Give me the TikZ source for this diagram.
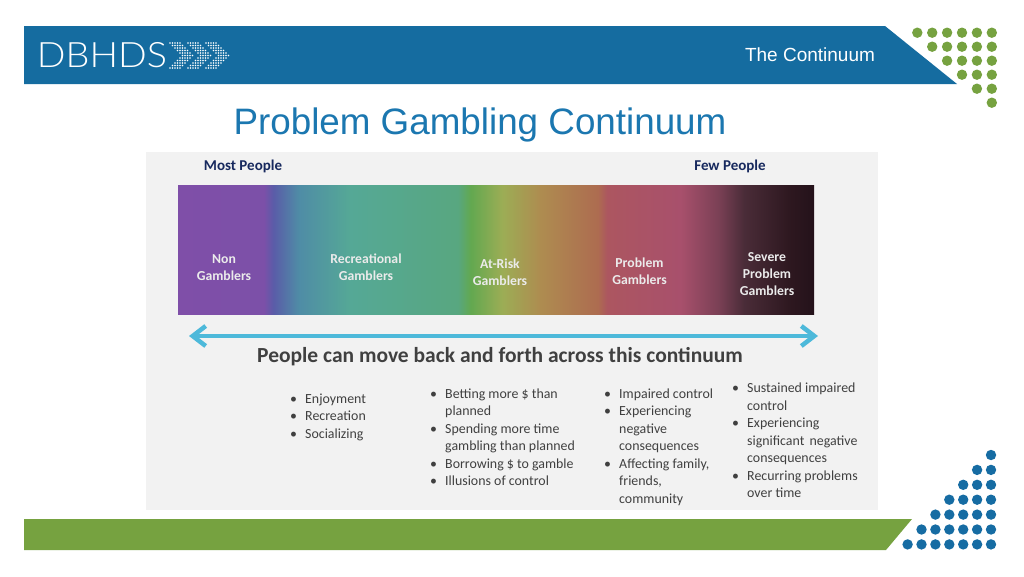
\documentclass[tikz,border=0pt]{standalone}
\usepackage{fontspec}
\usepackage{tikz}
\usetikzlibrary{arrows.meta}
\setmainfont{Carlito}
\newfontfamily\headfont{Liberation Sans}
\newfontfamily\logofont{Lato Light}
\definecolor{bandblue}{HTML}{156CA0}
\definecolor{dotblue}{HTML}{166CA3}
\definecolor{bandgreen}{HTML}{76A240}
\definecolor{titleblue}{HTML}{1B77B0}
\definecolor{panelgrey}{HTML}{F2F2F2}
\definecolor{navytext}{HTML}{17295E}
\definecolor{greytext}{HTML}{404040}
\definecolor{arrowblue}{HTML}{4DB9DA}
\definecolor{sa}{HTML}{7F4FA8}
\definecolor{sb}{HTML}{7C50A8}
\definecolor{sc}{HTML}{5A5CA8}
\definecolor{sd}{HTML}{4F8CA6}
\definecolor{se}{HTML}{55A896}
\definecolor{sf}{HTML}{58A780}
\definecolor{sg}{HTML}{62A850}
\definecolor{sh}{HTML}{9CAD55}
\definecolor{si}{HTML}{AE8C50}
\definecolor{sj}{HTML}{AD6C50}
\definecolor{sk}{HTML}{AC5660}
\definecolor{sl}{HTML}{A8506C}
\definecolor{sm}{HTML}{7A4055}
\definecolor{sn}{HTML}{4A2C38}
\definecolor{so}{HTML}{2E1820}
\definecolor{sp}{HTML}{24121A}
% only the middle of a shading shows: 25bp is the left end of the bar, 75bp the right
\pgfdeclarehorizontalshading{spectrum}{100bp}{
color(0bp)=(sa);
color(25bp)=(sa);
color(31.75bp)=(sb);
color(32.5bp)=(sc);
color(34.5bp)=(sd);
color(38.5bp)=(se);
color(47bp)=(sf);
color(48bp)=(sg);
color(50.5bp)=(sh);
color(53.5bp)=(si);
color(58bp)=(sj);
color(58.75bp)=(sk);
color(64.5bp)=(sl);
color(67.5bp)=(sm);
color(69.5bp)=(sn);
color(73bp)=(so);
color(75bp)=(sp);
color(100bp)=(sp)}
\newcommand{\itm}{\hbox to 15pt{\textbullet\hfil}}
\newcommand{\cnt}{\hbox to 15pt{}}
\tikzset{
every node/.style={inner sep=0pt},
barlabel/.style={align=center,text=white!92!black,font=\fontsize{13.7}{17.3}\selectfont\bfseries},
endlabel/.style={text=navytext,font=\fontsize{15}{18}\selectfont\bfseries},
listtext/.style={anchor=north west,align=left,text=greytext,font=\fontsize{13.9}{17.5}\selectfont}
}
\begin{document}
\begin{tikzpicture}[x=1pt,y=-1pt]
\useasboundingbox (0,0) rectangle (1024,576);
\fill[white] (0,0) rectangle (1024,576);

% bands
\fill[bandblue] (24,26) -- (885,26) -- (957,84) -- (24,84) -- cycle;
\fill[bandgreen] (24,519) -- (912,519) -- (886,550) -- (24,550) -- cycle;

% green dots
\foreach \r in {0,...,5}
	\foreach \c in {\r,...,5}
		\fill[bandgreen] ({917.3+14.9*\c},{32.7+14*\r}) circle (5.2);

% blue dots
\foreach \r in {0,...,6}
	\foreach \c in {0,...,\r}
		\fill[dotblue] ({991-13.9*\c},{455+14.9*\r}) circle (5.2);

% logo
\node[text=white,xscale=1.08,font=\fontsize{35}{35}\logofont] (logo) at (102,55.5) {DBHDS};
\foreach \x in {170,188,206}
	\foreach \r in {-5,...,5}
		\foreach \c in {0,...,4}
			\fill[white] ({\x+(5-abs(\r))*2.5+\c*2.5},{55.5+\r*2.5}) circle (0.95);

\node[text=white,font=\fontsize{19}{20}\headfont] (section) at (810,55) {The Continuum};
\node[text=titleblue,font=\fontsize{36.8}{40}\headfont] (title) at (480,124.5) {Problem Gambling Continuum};

% panel
\fill[panelgrey] (146,152) rectangle (878,510);
\shade[shading=spectrum] (178,185) rectangle (814,314);

\node[endlabel] (most) at (243,166) {Most People};
\node[endlabel] (few) at (730,166) {Few People};

\node[barlabel] (non) at (224,267.5) {Non\\Gamblers};
\node[barlabel] (rec) at (366,267.5) {Recreational\\Gamblers};
\node[barlabel] (risk) at (500,272) {At-Risk\\Gamblers};
\node[barlabel] (prob) at (639.5,271) {Problem\\Gamblers};
\node[barlabel] (severe) at (767,274) {Severe\\Problem\\Gamblers};

\coordinate (backend) at (189,336);
\coordinate (forthend) at (818,336);
\draw[arrowblue,line width=4.5pt,{Straight Barb[length=13pt,width=20pt]}-{Straight Barb[length=13pt,width=20pt]}] (backend) -- (forthend);

\node[text=greytext,font=\fontsize{21.5}{24}\selectfont\bfseries] (move) at (500,356.5) {People can move back and forth across this continuum};

\node[listtext] (gone) at (290,393.5) {\itm Enjoyment\\\itm Recreation\\\itm Socializing};
\node[listtext] (gtwo) at (430,388.5) {\itm Betting more \$ than\\\cnt planned\\\itm Spending more time\\\cnt gambling than planned\\\itm Borrowing \$ to gamble\\\itm Illusions of control};
\node[listtext] (gthree) at (604,388.5) {\itm Impaired control\\\itm Experiencing\\\cnt negative\\\cnt consequences\\\itm Affecting family,\\\cnt friends,\\\cnt community};
\node[listtext] (gfour) at (732,383) {\itm Sustained impaired\\\cnt control\\\itm Experiencing\\\cnt significant\hspace{2pt} negative\\\cnt consequences\\\itm Recurring problems\\\cnt over time};

\end{tikzpicture}
\end{document}
